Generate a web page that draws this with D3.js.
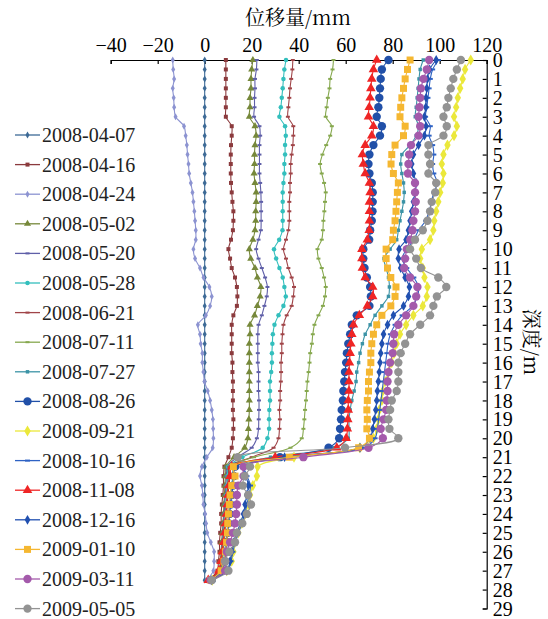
<!DOCTYPE html>
<html><head><meta charset="utf-8">
<script src="https://cdn.jsdelivr.net/npm/d3@7/dist/d3.min.js"></script>
<style>body{margin:0;background:#fff}svg{display:block}</style>
</head><body>
<svg id="c" width="548" height="619"></svg>
<script>
const depths = [0,0.5,1,1.5,2,2.5,3,3.5,4,4.5,5,5.5,6,6.5,7,7.5,8,8.5,9,9.5,10,10.5,11,11.5,12,12.5,13,13.5,14,14.5,15,15.5,16,16.5,17,17.5,18,18.5,19,19.5,20,20.5,21,21.5,22,22.5,23,23.5,24,24.5,25,25.5,26,26.5,27,27.5];
const xTicks = [-40,-20,0,20,40,60,80,100,120];
const yTicks = [0,1,2,3,4,5,6,7,8,9,10,11,12,13,14,15,16,17,18,19,20,21,22,23,24,25,26,27,28,29];
const dates = ["2008-04-07","2008-04-16","2008-04-24","2008-05-02","2008-05-20","2008-05-28","2008-06-21","2008-07-11","2008-07-27","2008-08-26","2008-09-21","2008-10-16","2008-11-08","2008-12-16","2009-01-10","2009-03-11","2009-05-05"];

const v080407 = [0,0,0,0,0,0,0,0,0,0,0,0,0,0,0,0,0,0,0,0,0,0,0,0,0,0,0,0,0,0,0,0,0,0,0,0,0,0,0,0,0,0,0,0,0,0,0,0,0,0,0,0,0,0,0,0];
const v080416 = [9.0,9.0,9.0,9.0,9.0,9.0,9.0, 11.5,11.5,11.2,11.1,11.1,11.1,11.2,11.5,11.8,12.2,12.2,12.0,11.2,10.1, 10.8,11.5,12.9,13.7,13.9,13.7,12.2,11.5,11.5,11.5,11.5,11.8,11.8,12.0,12.0,12.0,12.0,12.2,12.2,12.0,11.5, 10.1,8.4,8.0,8.0,7.7,7.3,7.0,7.0,6.6,6.3,6.3,5.8,5.4,1.6];
const v080424 = [-13.6,-13.4,-13.0,-13.6,-13.2,-13.0,-12.4, -8.8,-8.1,-7.6,-7.3,-6.9,-6.6,-5.9,-5.2,-4.8,-4.4,-4.1,-3.8,-3.8,-4.8, -4.1,-2.0,-0.5,2.0,3.0,2.3,0.5,-2.9,-2.0,-1.7,-1.0,-1.0,-0.55,-0.1,1.3,2.3,3.0,3.5,3.6,3.7,3.4, 0.9,-1.2,-2.0,-1.2,-0.8,-0.55,0.2,0.6,1.1,2.6,4.0,4.0,3.7,0.9];
const v080502 = [20.5,20.0,19.7,19.7,19.3,19.3,19.0, 21.4,21.9,21.4,21.2,21.2,21.0,21.4,21.9,21.9,21.7,21.7,21.4,20.5,19.0, 19.6,21.4,22.4,23.9,23.6,22.4,21.2,19.3,19.3,19.0,19.0,19.0,19.0,19.0,19.0,19.0,19.0,18.8,18.6,18.4,17.0, 12.5,9.0,8.8,8.6,8.4,8.2,8.0,7.8,7.5,7.2,7.0,6.6,6.0,2.0];
const v080520 = [22.2,22.0,21.4,21.4,21.2,21.2,21.0, 23.3,23.6,23.3,23.3,23.3,23.3,23.6,23.9,24.0,24.0,24.0,23.9,22.9,21.9, 22.9,24.3,25.7,26.7,26.4,25.4,24.3,22.9,22.6,22.6,22.6,22.6,22.9,22.9,22.9,23.1,23.1,23.0,22.9,22.2,20.0, 14.0,9.5,9.3,9.0,8.8,8.5,8.3,8.0,7.8,7.5,7.2,6.8,6.2,2.2];
const v080528 = [34.6,33.9,33.5,33.2,32.8,32.4,31.8, 34.2,34.5,34.2,34.2,33.9,33.9,33.5,33.2,33.2,33.2,33.2,33.1,31.7,29.5, 30.4,31.8,33.2,33.9,34.5,33.5,31.4,29.7,29.0,28.8,28.6,28.6,28.3,27.8,27.8,27.8,27.5,27.4,27.4,26.7,24.7, 16.0,10.0,9.8,9.5,9.2,9.0,8.7,8.4,8.0,7.8,7.4,7.0,6.4,2.4];
const v080621 = [37.5,37.3,36.8,36.3,36.0,35.6,35.4, 37.7,37.7,37.5,37.0,36.6,36.6,36.3,36.3,36.0,36.0,36.0,35.6,34.6,33.5, 34.6,35.6,37.0,38.0,37.7,37.0,34.9,33.5,33.1,32.8,32.8,32.5,32.5,32.4,32.1,32.1,31.8,32.0,31.8,31.4,29.3, 20.0,10.5,10.2,9.8,9.5,9.2,8.9,8.6,8.3,8.0,7.6,7.2,6.6,2.5];
const v080711 = [54.8,54.4,53.4,53.1,52.4,51.9,51.5, 54.1,53.4,51.7,50.1,49.1,49.8,50.8,51.5,51.2,50.9,50.5,50.3,49.8,48.0, 48.4,49.8,50.8,51.5,51.2,50.3,48.4,46.7,46.0,45.6,44.9,44.6,44.2,43.7,43.4,43.1,42.7,42.4,42.0,41.3,36.5, 21.0,11.0,10.6,10.2,9.9,9.6,9.2,8.9,8.5,8.2,7.8,7.4,6.8,2.6];
const v080727 = [93.0,91.7,91.2,90.8,90.4,90.0,89.6, 91.0,90.0,87.4,83.9,83.4,83.9,84.6,84.9,84.6,83.9,83.1,82.4,81.7,78.9, 76.3,77.2,78.2,78.6,78.2,75.4,72.5,70.4,68.3,67.1,66.1,65.5,64.7,64.4,63.6,62.6,61.9,61.4,61.4,61.1,55.0, 28.0,12.5,12.0,11.5,11.0,10.6,10.2,9.8,9.4,9.0,8.5,8.0,7.2,2.8];
const v080826 = [78.2,75.4,74.9,74.6,74.3,73.9,73.2, 75.4,74.6,71.8,70.1,69.7,70.1,71.1,71.5,71.5,71.4,71.1,70.4,70.0,67.5, 67.5,68.0,69.0,70.4,70.7,70.1,64.7,62.6,61.9,61.1,60.5,60.2,59.7,59.4,59.0,58.8,58.3,58.0,57.6,57.2,52.7, 32.0,13.0,12.5,12.0,11.5,11.0,10.6,10.2,9.8,9.4,9.0,8.5,7.6,3.0];
const v080921 = [113.2,110.8,109.8,108.7,107.7,107.0,106.1, 107.3,106.1,103.3,101.6,100.9,101.6,101.3,100.2,99.4,98.5,97.7,97.3,95.9,92.4, 91.7,92.8,93.5,94.8,94.5,92.8,88.8,85.7,83.1,81.7,80.7,79.6,78.2,76.8,75.8,75.4,74.3,73.9,73.2,71.8,66.0, 38.0,22.5,22.2,20.5,19.3,18.6,17.2,15.8,14.3,12.9,12.2,11.5,9.4,3.2];
const v081016 = [99.5,97.0,96.0,95.5,95.0,94.5,94.0, 96.0,95.5,97.0,97.5,97.0,97.5,99.0,97.5,96.5,95.5,94.0,91.0,89.0,86.0, 84.0,86.0,89.0,91.0,90.5,88.5,84.0,81.0,79.0,78.0,77.5,77.0,76.5,76.0,75.5,75.0,74.5,74.0,73.5,72.5,68.0, 35.0,17.0,18.0,19.5,18.8,18.0,17.0,15.8,14.4,13.0,12.0,11.2,9.8,3.1];
const v081108 = [73.2,71.8,71.1,70.7,70.4,70.0,69.7, 71.8,71.1,68.3,67.1,67.5,68.3,70.1,70.4,70.1,70.1,70.1,70.0,69.2,66.9, 66.9,67.1,68.3,71.5,71.5,69.2,65.8,63.3,62.6,62.2,61.9,61.6,61.4,61.4,61.4,61.1,61.1,60.9,60.7,60.2,56.2, 30.0,11.5,10.8,10.3,9.9,9.6,9.2,8.8,8.4,8.0,7.5,7.0,6.0,1.5];
const v081216 = [98.5,95.7,94.8,94.5,94.2,94.1,93.5, 94.2,93.5,91.0,88.8,88.1,88.8,90.0,89.5,88.8,88.1,87.4,86.7,85.7,82.7, 82.4,83.4,85.3,87.1,86.7,84.6,80.3,77.8,76.1,75.4,74.9,74.6,74.3,73.9,73.5,73.2,72.8,72.2,71.5,70.4,66.1, 34.0,16.5,17.5,18.6,17.9,17.2,16.5,15.1,13.7,12.2,11.5,10.8,9.4,3.0];
const v090110 = [87.4,86.3,85.3,84.6,83.9,83.4,83.1, 85.3,84.6,81.0,79.6,79.3,80.3,82.4,82.0,81.7,81.4,81.0,80.3,80.0,77.2, 77.2,77.8,79.2,81.4,81.0,79.2,75.4,73.2,71.8,71.1,70.7,70.7,70.1,69.7,69.7,69.2,69.0,69.2,69.0,70.1,65.5, 36.0,12.2,12.9,11.5,10.8,10.5,10.1,9.8,9.7,9.3,8.8,8.2,7.0,2.5];
const v090311 = [95.5,94.5,93.1,92.0,91.7,91.4,91.0, 91.7,91.0,87.8,87.0,86.7,86.5,89.5,89.5,89.8,89.5,88.8,88.4,87.5,86.0, 85.3,84.9,87.4,90.5,90.0,88.8,85.7,82.4,80.6,80.3,80.0,78.9,78.2,77.8,77.8,77.5,77.2,76.1,74.9,75.8,69.7, 42.0,16.5,16.5,14.3,13.7,13.7,13.4,12.9,12.0,10.8,9.4,8.7,8.7,2.5];
const v090505 = [109.0,107.3,105.8,104.7,103.7,103.0,101.6, 103.0,101.6,95.2,95.2,95.9,95.2,98.5,98.1,96.6,95.9,94.8,92.8,89.5,87.4, 90.0,92.0,99.4,102.8,98.8,97.3,95.9,91.7,87.4,85.3,83.4,82.4,82.4,82.4,81.7,79.6,78.9,78.2,78.6,82.4,59.7, 14.0,19.3,17.0,16.2,18.5,19.7,17.9,16.0,13.7,12.9,10.5,8.7,10.1,3.0];

const values = [v080407,v080416,v080424,v080502,v080520,v080528,v080621,v080711,v080727,v080826,v080921,v081016,v081108,v081216,v090110,v090311,v090505];
const colors = ["#3d6a96","#8b3a3d","#8c93d1","#76883a","#5f5fa8","#33bfbd","#a04448","#86a84e","#3b93a6","#2150a8","#ebe83a","#2e62c4","#ef2525","#2050b0","#f5b731","#a45aab","#939393"];
const shapes = ["diamond","square","diamond","triangle","dash","circle","dash","dash","square","circle","diamond","dash","triangle","diamond","square","circle","circle"];
const sizes = [14,16,14,22,4,16,4,4,12,55,36,5,40,28,49,55,55];

const svg = d3.select("#c");
const x = d3.scaleLinear().domain([-40,120]).range([110.7,486.7]);
const y = d3.scaleLinear().domain([0,29]).range([60,608.5]);
const serif = "'Liberation Serif','Times New Roman',serif";
const cjk = "'Noto Serif CJK SC','Noto Sans CJK SC',serif";

// axes
const gx = svg.append("g").attr("transform","translate(0,60)")
  .call(d3.axisBottom(x).tickValues(xTicks).tickSize(4).tickFormat(d => d < 0 ? "\u2212" + Math.abs(d) : d));
gx.selectAll("text").attr("y",-8).attr("dy",0).attr("font-size",20).attr("font-family",serif).attr("fill","#000");
gx.select(".domain").attr("stroke","#000").attr("stroke-width",1.2);
gx.selectAll(".tick line").attr("stroke","#000").attr("stroke-width",1.2);

const gy = svg.append("g").attr("transform","translate(486.7,0)")
  .call(d3.axisLeft(y).tickValues(yTicks).tickSize(4).tickFormat(d => d));
gy.selectAll("text").attr("x",6).attr("dy","0.33em").attr("text-anchor","start").attr("font-size",20).attr("font-family",serif).attr("fill","#000");
gy.select(".domain").attr("stroke","#000").attr("stroke-width",1.2);
gy.selectAll(".tick line").attr("stroke","#000").attr("stroke-width",1.2);

svg.append("text").attr("x",298).attr("y",25).attr("text-anchor","middle")
  .attr("font-size",20).attr("font-family",cjk).text("位移量/mm");
svg.append("text").attr("transform","translate(524,342) rotate(90)").attr("text-anchor","middle")
  .attr("font-size",20).attr("font-family",cjk).text("深度/m");

function marker(g, shape, size, color){
  if(shape === "dash"){
    g.append("line").attr("x1",-size/2).attr("x2",size/2).attr("stroke",color).attr("stroke-width",2);
  } else {
    const t = {diamond:d3.symbolDiamond,square:d3.symbolSquare,triangle:d3.symbolTriangle,circle:d3.symbolCircle}[shape];
    g.append("path").attr("d",d3.symbol().type(t).size(size)()).attr("fill",color);
  }
}

const line = d3.line().x(d => x(d[1])).y(d => y(d[0])).curve(d3.curveCatmullRom.alpha(0.5));
values.forEach((vals,k) => {
  const pts = depths.map((d,i) => [d, vals[i]]);
  const g = svg.append("g");
  g.append("path").attr("d",line(pts)).attr("fill","none").attr("stroke",colors[k]).attr("stroke-width",1.1);
  pts.forEach(p => {
    const m = g.append("g").attr("transform",`translate(${x(p[1])},${y(p[0])})`);
    marker(m, shapes[k], sizes[k], colors[k]);
  });
});

// legend
dates.forEach((dt,k) => {
  const yy = 135 + k*29.6;
  const g = svg.append("g").attr("transform",`translate(0,${yy})`);
  g.append("line").attr("x1",15).attr("x2",40).attr("stroke",colors[k]).attr("stroke-width",1.3);
  const m = g.append("g").attr("transform","translate(27.5,0)");
  marker(m, shapes[k], sizes[k], colors[k]);
  g.append("text").attr("x",42).attr("dy","0.35em").attr("font-size",20).attr("font-family",serif).attr("fill","#222").text(dt);
});
</script>
</body></html>
